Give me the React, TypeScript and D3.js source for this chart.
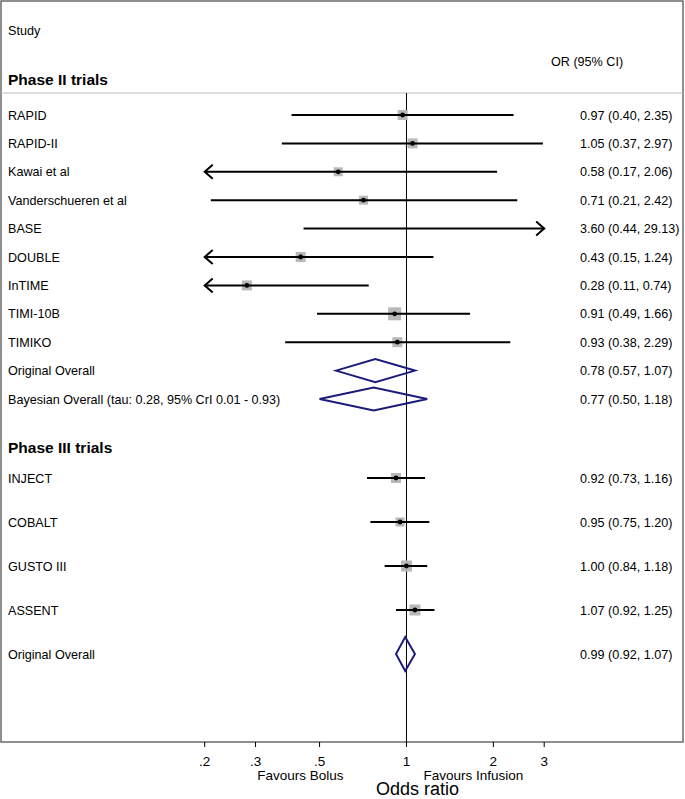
import React from "react";
import * as d3 from "d3";

const studies2 = ["RAPID", "RAPID-II", "Kawai et al", "Vanderschueren et al", "BASE", "DOUBLE", "InTIME", "TIMI-10B", "TIMIKO"];
const or2 = [0.97, 1.05, 0.58, 0.71, 3.6, 0.43, 0.28, 0.91, 0.93];
const lo2 = [0.4, 0.37, 0.17, 0.21, 0.44, 0.15, 0.11, 0.49, 0.38];
const hi2 = [2.35, 2.97, 2.06, 2.42, 29.13, 1.24, 0.74, 1.66, 2.29];
const box2 = [10, 10, 9, 9, 5, 10, 10, 13, 10];

const pooled2Labels = ["Original Overall", "Bayesian Overall (tau: 0.28, 95% CrI 0.01 - 0.93)"];
const pooled2Or = [0.78, 0.77];
const pooled2Lo = [0.57, 0.5];
const pooled2Hi = [1.07, 1.18];

const studies3 = ["INJECT", "COBALT", "GUSTO III", "ASSENT"];
const or3 = [0.92, 0.95, 1.0, 1.07];
const lo3 = [0.73, 0.75, 0.84, 0.92];
const hi3 = [1.16, 1.2, 1.18, 1.25];
const box3 = [10, 9, 11, 11];

const pooled3Labels = ["Original Overall"];
const pooled3Or = [0.99];
const pooled3Lo = [0.92];
const pooled3Hi = [1.07];

const tickValues = [0.2, 0.3, 0.5, 1, 2, 3];
const tickLabels = [".2", ".3", ".5", "1", "2", "3"];

const W = 685;
const H = 799;
const FONT = "'Liberation Sans', Arial, Helvetica, sans-serif";
const NAVY = "#1b1b7c";

export default function App() {
  const x = d3.scaleLog().domain([0.2, 3]).range([204.7, 544.2]);
  const [dMin, dMax] = x.domain();
  const fmt = d3.format(".2f");
  const orText = (o: number, l: number, h: number) => `${fmt(o)} (${fmt(l)}, ${fmt(h)})`;

  const rows2 = [...studies2, ...pooled2Labels];
  const y2 = d3.scalePoint<string>().domain(rows2).range([115, 399]);
  const rows3 = [...studies3, ...pooled3Labels];
  const y3 = d3.scalePoint<string>().domain(rows3).range([478, 654]);

  const axisY = 742;
  const textX = 580;

  const studyRow = (label: string, o: number, l: number, h: number, b: number, y: number, key: string) => {
    const x1 = x(Math.max(l, dMin));
    const x2 = x(Math.min(h, dMax));
    const showPoint = o >= dMin && o <= dMax;
    return (
      <g key={key}>
        <text x={8} y={y + 4.5} fontSize={12.6}>{label}</text>
        {showPoint && (
          <rect x={x(o) - b / 2} y={y - b / 2} width={b} height={b} fill="#b8b8b8" />
        )}
        <line x1={x1} x2={x2} y1={y} y2={y} stroke="#000" strokeWidth={2} />
        {l < dMin && (
          <path d={`M${x1 + 8},${y - 7} L${x1},${y} L${x1 + 8},${y + 7}`} fill="none" stroke="#000" strokeWidth={2} />
        )}
        {h > dMax && (
          <path d={`M${x2 - 8},${y - 7} L${x2},${y} L${x2 - 8},${y + 7}`} fill="none" stroke="#000" strokeWidth={2} />
        )}
        {showPoint && <circle cx={x(o)} cy={y} r={2.4} fill="#000" />}
        <text x={textX} y={y + 4.5} fontSize={12.6}>{orText(o, l, h)}</text>
      </g>
    );
  };

  const pooledRow = (label: string, o: number, l: number, h: number, y: number, half: number, key: string) => (
    <g key={key}>
      <text x={8} y={y + 4.5} fontSize={12.6}>{label}</text>
      <path
        d={`M${x(l)},${y} L${x(o)},${y - half} L${x(h)},${y} L${x(o)},${y + half} Z`}
        fill="none"
        stroke={NAVY}
        strokeWidth={2}
      />
      <text x={textX} y={y + 4.5} fontSize={12.6}>{orText(o, l, h)}</text>
    </g>
  );

  return (
    <svg
      width={W}
      height={H}
      style={{ position: "absolute", left: 0, top: 0, background: "#fff" }}
      fontFamily={FONT}
    >
      <rect x={1} y={1} width={682} height={axisY - 1} fill="none" stroke="#6a6a6a" strokeWidth={1.5} />
      <line x1={1} x2={683} y1={93} y2={93} stroke="#bdbdbd" strokeWidth={1} />

      <text x={8} y={35} fontSize={12.6}>Study</text>
      <text x={551} y={66} fontSize={12.6}>OR (95% CI)</text>
      <text x={8} y={85} fontSize={15.5} fontWeight="bold">Phase II trials</text>
      <text x={8} y={453} fontSize={15.5} fontWeight="bold">Phase III trials</text>

      <line x1={x(1)} x2={x(1)} y1={93} y2={axisY} stroke="#000" strokeWidth={1} />

      {studies2.map((s, i) => studyRow(s, or2[i], lo2[i], hi2[i], box2[i], y2(s)!, "s2" + i))}
      {pooled2Labels.map((s, i) => pooledRow(s, pooled2Or[i], pooled2Lo[i], pooled2Hi[i], y2(s)!, 11.5, "p2" + i))}
      {studies3.map((s, i) => studyRow(s, or3[i], lo3[i], hi3[i], box3[i], y3(s)!, "s3" + i))}
      {pooled3Labels.map((s, i) => pooledRow(s, pooled3Or[i], pooled3Lo[i], pooled3Hi[i], y3(s)!, 17, "p3" + i))}

      {tickValues.map((t, i) => (
        <g key={"t" + i}>
          <line x1={x(t)} x2={x(t)} y1={axisY} y2={axisY + 5} stroke="#000" strokeWidth={1} />
          <text x={x(t)} y={axisY + 24} fontSize={13.5} textAnchor="middle">{tickLabels[i]}</text>
        </g>
      ))}
      <text x={x(1) - 106} y={axisY + 38} fontSize={13.5} textAnchor="middle">Favours Bolus</text>
      <text x={x(1) + 67} y={axisY + 38} fontSize={13.5} textAnchor="middle">Favours Infusion</text>
      <text x={x(1) + 11} y={H - 4} fontSize={18} textAnchor="middle">Odds ratio</text>
    </svg>
  );
}
